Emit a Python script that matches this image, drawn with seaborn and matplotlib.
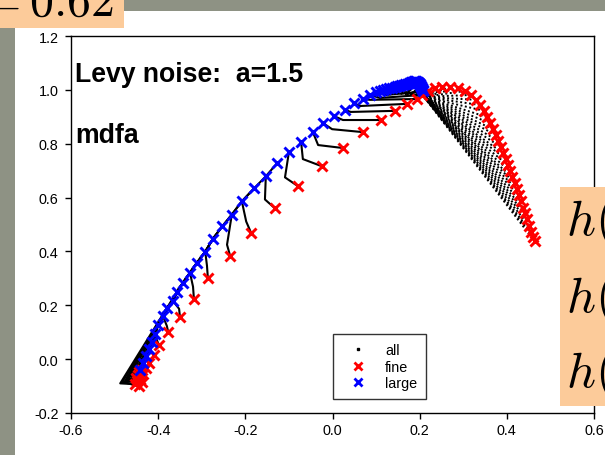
import numpy as np
import pandas as pd
import matplotlib
matplotlib.use("Agg")
import matplotlib.pyplot as plt
from matplotlib.patches import Rectangle
from matplotlib.lines import Line2D
import seaborn as sns

# ---------------- data ----------------
# fine-scale end of every trajectory (red x)
fine_x = [-0.437, -0.444, -0.435, -0.439, -0.437, -0.446, -0.442, -0.451, -0.444, -0.448, -0.453,
          -0.428, -0.421, -0.409, -0.398, -0.377, -0.350, -0.318, -0.286, -0.235, -0.187,
          -0.132, -0.079, -0.024, 0.024, 0.070, 0.111, 0.143, 0.171, 0.194,
          0.205, 0.219, 0.235, 0.251, 0.270, 0.288, 0.304, 0.318, 0.329, 0.338, 0.348,
          0.354, 0.361, 0.368, 0.375, 0.380, 0.387, 0.391, 0.398, 0.403, 0.407, 0.412,
          0.419, 0.423, 0.428, 0.432, 0.437, 0.442, 0.446, 0.451, 0.455, 0.460, 0.464]
fine_y = [-0.041, -0.049, -0.056, -0.063, -0.086, -0.060, -0.075, -0.071, -0.101, -0.082, -0.093,
          -0.034, -0.015, 0.015, 0.052, 0.101, 0.157, 0.224, 0.302, 0.384, 0.470,
          0.560, 0.642, 0.716, 0.784, 0.843, 0.888, 0.922, 0.948, 0.966,
          0.981, 0.996, 1.007, 1.011, 1.011, 1.007, 0.996, 0.981, 0.963, 0.944, 0.922,
          0.899, 0.877, 0.854, 0.832, 0.810, 0.787, 0.765, 0.743, 0.720, 0.698, 0.675,
          0.653, 0.631, 0.608, 0.586, 0.563, 0.541, 0.519, 0.496, 0.474, 0.455, 0.437]

# large-scale end of every trajectory (blue x)
large_x = [-0.442, -0.435, -0.428, -0.421, -0.414, -0.407, -0.400, -0.389, -0.380, -0.366, -0.357,
           -0.343, -0.327, -0.311, -0.292, -0.274, -0.253, -0.231, -0.208, -0.180, -0.153,
           -0.127, -0.100, -0.072, -0.045, -0.022, 0.003, 0.029, 0.049, 0.070,
           0.086, 0.100, 0.109, 0.116, 0.123, 0.130, 0.137, 0.143, 0.148, 0.153, 0.157,
           0.162, 0.166, 0.171, 0.176, 0.178, 0.180, 0.182, 0.185, 0.187, 0.189, 0.192,
           0.194, 0.196, 0.198, 0.201, 0.201, 0.203, 0.203, 0.205, 0.205, 0.208, 0.208]
large_y = [-0.041, -0.015, 0.011, 0.037, 0.063, 0.093, 0.127, 0.160, 0.190, 0.216, 0.250,
           0.284, 0.321, 0.358, 0.399, 0.448, 0.493, 0.537, 0.586, 0.634, 0.679,
           0.728, 0.769, 0.806, 0.843, 0.877, 0.903, 0.925, 0.951, 0.966,
           0.981, 0.993, 0.996, 1.000, 1.004, 1.007, 1.007, 1.011, 1.015, 1.015, 1.019,
           1.019, 1.022, 1.022, 1.026, 1.026, 1.030, 1.030, 1.030, 1.034, 1.034, 1.034,
           1.030, 1.030, 1.026, 1.022, 1.019, 1.015, 1.011, 1.007, 1.004, 1.000, 0.996]

# intermediate-scale point of every trajectory (black, "all")
mid_x = [-0.446, -0.448, -0.451, -0.455, -0.460, -0.464, -0.469, -0.474, -0.478, -0.483, -0.487,
         -0.432, -0.426, -0.414, -0.403, -0.380, -0.352, -0.320, -0.288, -0.242, -0.198,
         -0.155, -0.109, -0.068, -0.033, -0.001, 0.024, 0.042, 0.063, 0.086,
         0.109, 0.123] + [0.210] * 31
mid_y = [-0.060, -0.063, -0.067, -0.071, -0.075, -0.078, -0.078, -0.082, -0.086, -0.086, -0.090,
         -0.026, -0.004, 0.026, 0.071, 0.123, 0.187, 0.269, 0.347, 0.425, 0.511,
         0.593, 0.675, 0.743, 0.795, 0.854, 0.888, 0.918, 0.940, 0.963,
         0.970, 0.981] + [0.974] * 31
# index of the large-scale point where each trajectory meets the large-scale curve
join_idx = list(range(0, 11)) + [1, 2, 3, 5, 7, 9, 12, 14, 17, 18, 20] + list(range(22, 63))
n_solid = 32  # trajectories after this one are the dotted fan

# ---------------- build trajectories ----------------
rows = []
for i in range(len(fine_x)):
    pts = [(fine_x[i], fine_y[i]), (mid_x[i], mid_y[i])]
    pts += [(large_x[k], large_y[k]) for k in range(join_idx[i], i + 1)]
    for s, (px, py) in enumerate(pts):
        rows.append({"traj": i, "step": s, "x": px, "y": py,
                     "kind": "solid" if i < n_solid else "fan"})
df = pd.DataFrame(rows)

# ---------------- style ----------------
sns.set_style("ticks")
plt.rcParams["font.family"] = ["Liberation Sans", "DejaVu Sans"]
plt.rcParams["axes.unicode_minus"] = False
plt.rcParams["mathtext.fontset"] = "cm"
for k in ["text.color", "axes.labelcolor", "xtick.color", "ytick.color", "axes.edgecolor"]:
    plt.rcParams[k] = "black"

W, H = 605, 456
fig = plt.figure(figsize=(W / 100, H / 100), dpi=100, facecolor="#8e9284")
fig.patches.append(Rectangle((15 / W, 0), (W - 15) / W, (H - 12) / H,
                             transform=fig.transFigure, facecolor="white",
                             edgecolor="none", zorder=-5))

ax = fig.add_axes([71 / W, (H - 414) / H, 523 / W, 377 / H])
ax.set_facecolor("white")

sns.lineplot(data=df[df.kind == "solid"], x="x", y="y", units="traj", estimator=None,
             sort=False, color="black", lw=1.5, ax=ax, legend=False)
sns.lineplot(data=df[df.kind == "fan"], x="x", y="y", units="traj", estimator=None,
             sort=False, color="black", lw=1.4, linestyle=(0, (1, 1.3)), ax=ax, legend=False)
sns.scatterplot(x=fine_x, y=fine_y, marker="x", color="red", s=52, linewidth=2.1,
                ax=ax, zorder=3)
sns.scatterplot(x=large_x, y=large_y, marker="x", color="blue", s=52, linewidth=2.1,
                ax=ax, zorder=4)

ax.set_xlim(-0.6, 0.6)
ax.set_ylim(-0.2, 1.2)
xt = [-0.6, -0.4, -0.2, 0.0, 0.2, 0.4, 0.6]
yt = [-0.2, 0.0, 0.2, 0.4, 0.6, 0.8, 1.0, 1.2]
ax.set_xticks(xt)
ax.set_xticklabels([f"{v:.1f}" for v in xt])
ax.set_yticks(yt)
ax.set_yticklabels([f"{v:.1f}" for v in yt])
ax.set_xlabel("")
ax.set_ylabel("")
ax.tick_params(direction="out", length=4.5, width=1, labelsize=10.4, colors="black")
ax.tick_params(axis="y", pad=4.5)
ax.tick_params(axis="x", pad=3)
for sp in ax.spines.values():
    sp.set_visible(True)
    sp.set_color("black")
    sp.set_linewidth(1.0)

ax.text(0.008, 0.881, "Levy noise:  a=1.5", transform=ax.transAxes, fontsize=19.2,
        fontweight="bold", va="baseline", ha="left", color="black")
ax.text(0.008, 0.719, "mdfa", transform=ax.transAxes, fontsize=19.2,
        fontweight="bold", va="baseline", ha="left", color="black")

handles = [Line2D([], [], marker="s", markersize=1.6, color="black", ls="None"),
           Line2D([], [], marker="x", markersize=5.5, mew=2.0, color="red", ls="None"),
           Line2D([], [], marker="x", markersize=5.5, mew=2.0, color="blue", ls="None")]
leg = ax.legend(handles, ["all", "fine", "large"], loc="upper left",
                bbox_to_anchor=(0.501, 0.2095), fontsize=10.4, frameon=True,
                fancybox=False, edgecolor="#333333", framealpha=1,
                borderpad=0.6, handlelength=2.2, handletextpad=0.8,
                labelspacing=0.2, borderaxespad=0)
leg.get_frame().set_linewidth(1.0)
for t in leg.get_texts():
    t.set_color("black")

# ---------------- slide overlays ----------------
orange = "#fccb9a"
fig.patches.append(Rectangle((0, (H - 29) / H), 124 / W, 29 / H, transform=fig.transFigure,
                             facecolor=orange, edgecolor="none", zorder=5))
fig.patches.append(Rectangle((560 / W, (H - 407) / H), 45 / W, 219 / H,
                             transform=fig.transFigure, facecolor=orange,
                             edgecolor="none", zorder=5))
fig.text(-25 / W, (H - 16) / H, r"$= 0.62$", fontsize=34.5, va="baseline", ha="left",
         zorder=6, color="black")
for yb in [235, 312, 387]:
    fig.text(566 / W, (H - yb) / H, r"$h(q)$", fontsize=36.3, va="baseline", ha="left",
             zorder=6, color="black")

fig.savefig("out.png", dpi=100, facecolor=fig.get_facecolor())
